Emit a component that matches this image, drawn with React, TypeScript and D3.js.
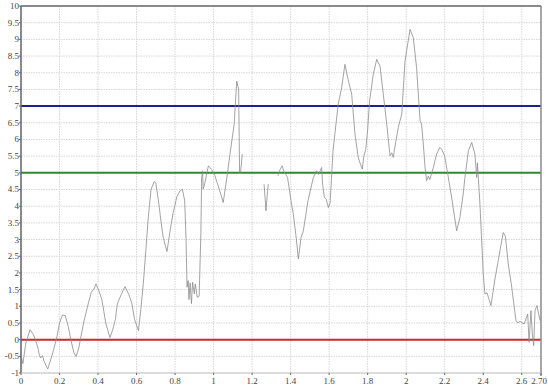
import React from "react";
import * as d3 from "d3";

const xTicks = [0, 0.2, 0.4, 0.6, 0.8, 1, 1.2, 1.4, 1.6, 1.8, 2, 2.2, 2.4, 2.6, 2.7];
const xTickLabels = ["0", "0.2", "0.4", "0.6", "0.8", "1", "1.2", "1.4", "1.6", "1.8", "2", "2.2", "2.4", "2.6", "2.70"];
const yTicks = [-1, -0.5, 0, 0.5, 1, 1.5, 2, 2.5, 3, 3.5, 4, 4.5, 5, 5.5, 6, 6.5, 7, 7.5, 8, 8.5, 9, 9.5, 10];
const yTickLabels = ["-1", "-0.5", "0", "0.5", "1", "1.5", "2", "2.5", "3", "3.5", "4", "4.5", "5", "5.5", "6", "6.5", "7", "7.5", "8", "8.5", "9", "9.5", "10"];

const refLevels = [7, 5, 0];
const refColors = ["#1f1f8f", "#2f8a2f", "#c92a2a"];

const segment1: [number, number][] = [
  [0.003, -0.55], [0.01, -0.72], [0.025, -0.1], [0.047, 0.3], [0.065, 0.15], [0.08, -0.1],
  [0.088, -0.25], [0.095, -0.45], [0.102, -0.55], [0.112, -0.48], [0.118, -0.62], [0.13, -0.78],
  [0.139, -0.88], [0.15, -0.68], [0.168, -0.33], [0.185, 0.05], [0.2, 0.5], [0.215, 0.74],
  [0.23, 0.72], [0.245, 0.4], [0.26, -0.03], [0.275, -0.4], [0.286, -0.51], [0.3, -0.25],
  [0.325, 0.5], [0.35, 1.1], [0.365, 1.42], [0.38, 1.52], [0.389, 1.67], [0.405, 1.45],
  [0.42, 1.2], [0.44, 0.5], [0.45, 0.3], [0.462, 0.06], [0.475, 0.28], [0.49, 0.6],
  [0.5, 1.07], [0.52, 1.35], [0.54, 1.59], [0.56, 1.35], [0.575, 1.1], [0.59, 0.6],
  [0.61, 0.27], [0.622, 0.9], [0.635, 1.67], [0.648, 2.66], [0.66, 3.6], [0.675, 4.5],
  [0.692, 4.74], [0.7, 4.7], [0.715, 4.1], [0.73, 3.4], [0.739, 3.06], [0.75, 2.8],
  [0.758, 2.64], [0.775, 3.3], [0.79, 3.8], [0.81, 4.3], [0.825, 4.45], [0.838, 4.51],
  [0.85, 4.16], [0.857, 3.0], [0.862, 1.57], [0.868, 1.77], [0.872, 1.2], [0.878, 1.7],
  [0.885, 1.08], [0.891, 1.72], [0.9, 1.37], [0.905, 1.67], [0.915, 1.27], [0.925, 1.3],
  [0.934, 3.2], [0.938, 4.86], [0.943, 5.06], [0.946, 4.51], [0.955, 4.7], [0.973, 5.21],
  [0.99, 5.1], [1.007, 4.91], [1.03, 4.5], [1.05, 4.11], [1.07, 4.9], [1.085, 5.56],
  [1.107, 6.46], [1.12, 7.75], [1.13, 7.5], [1.135, 5.01], [1.14, 5.01], [1.149, 5.56],
];

const segment2: [number, number][] = [
  [1.262, 4.66], [1.268, 4.2], [1.272, 3.86], [1.278, 4.3], [1.284, 4.66],
];

const segment3: [number, number][] = [
  [1.334, 4.91], [1.345, 5.1], [1.356, 5.21], [1.365, 5.05], [1.384, 4.86], [1.402, 4.16],
  [1.414, 3.76], [1.43, 3.0], [1.44, 2.42], [1.454, 3.06], [1.466, 3.26], [1.49, 4.16],
  [1.518, 4.86], [1.535, 5.06], [1.545, 4.95], [1.561, 5.16], [1.566, 4.66], [1.575, 4.26],
  [1.585, 4.2], [1.596, 3.96], [1.605, 4.1], [1.62, 5.66], [1.647, 7.06], [1.665, 7.55],
  [1.682, 8.25], [1.7, 7.75], [1.717, 7.36], [1.734, 6.16], [1.751, 5.46], [1.76, 5.3],
  [1.772, 5.11], [1.78, 5.5], [1.79, 5.7], [1.8, 6.3], [1.81, 7.16], [1.829, 7.95],
  [1.847, 8.4], [1.864, 8.2], [1.881, 7.36], [1.899, 6.46], [1.916, 5.51], [1.925, 5.6],
  [1.933, 5.46], [1.945, 5.9], [1.959, 6.36], [1.977, 6.76], [1.994, 8.35], [2.02, 9.3],
  [2.037, 9.05], [2.054, 8.15], [2.072, 6.56], [2.08, 6.46], [2.089, 5.86], [2.098, 5.16],
  [2.106, 4.76], [2.115, 4.9], [2.123, 4.8], [2.141, 5.16], [2.158, 5.56], [2.175, 5.76],
  [2.185, 5.7], [2.2, 5.5], [2.216, 4.96], [2.236, 4.26], [2.262, 3.26], [2.279, 3.66],
  [2.296, 4.36], [2.305, 4.86], [2.323, 5.66], [2.34, 5.91], [2.357, 5.56], [2.366, 4.86],
  [2.37, 5.3], [2.383, 4.06], [2.4, 1.97], [2.409, 1.37], [2.42, 1.4], [2.44, 1.02],
  [2.461, 1.82], [2.478, 2.37], [2.496, 2.96], [2.504, 3.21], [2.515, 3.1], [2.53, 2.27],
  [2.548, 1.57], [2.57, 0.57], [2.58, 0.5], [2.59, 0.55], [2.613, 0.47], [2.631, 0.77],
  [2.638, -0.08], [2.648, 0.87], [2.655, 0.17], [2.662, -0.18], [2.669, 0.87], [2.679, 1.02],
  [2.695, 0.57],
];

const segments = [segment1, segment2, segment3];

export default function App() {
  const W = 548, H = 387;
  const left = 21, right = 541, top = 6, bottom = 373;
  const x = d3.scaleLinear().domain([0, 2.7]).range([left, right]);
  const y = d3.scaleLinear().domain([-1, 10]).range([bottom, top]);
  const line = d3.line<[number, number]>().x(d => x(d[0])).y(d => y(d[1]));
  const font = "'Liberation Serif', 'Times New Roman', serif";

  return (
    <svg width={W} height={H} style={{ position: "absolute", left: 0, top: 0, background: "#fff" }}>
      <rect x={0} y={0} width={W} height={H} fill="#fff" />
      {yTicks.map((t, i) => (
        <line key={"gy" + i} x1={left} x2={right} y1={y(t)} y2={y(t)} stroke="#d6d6d6" strokeWidth={1} strokeDasharray="1.5,1" />
      ))}
      {xTicks.slice(0, -1).map((t, i) => (
        <line key={"gx" + i} x1={x(t)} x2={x(t)} y1={top} y2={bottom} stroke="#d6d6d6" strokeWidth={1} strokeDasharray="1.5,1" />
      ))}
      {refLevels.map((v, i) => (
        <line key={"r" + i} x1={left} x2={right} y1={y(v)} y2={y(v)} stroke={refColors[i]} strokeWidth={2} />
      ))}
      {segments.map((s, i) => (
        <path key={"s" + i} d={line(s) || ""} fill="none" stroke="#8c8c8c" strokeWidth={0.8} />
      ))}
      <line x1={left} x2={right} y1={top} y2={top} stroke="#8a8a8a" strokeWidth={2} />
      <line x1={right} x2={right} y1={top} y2={bottom + 3} stroke="#8a8a8a" strokeWidth={1.5} />
      <line x1={left} x2={left} y1={top} y2={bottom} stroke="#666" strokeWidth={1.5} />
      <line x1={left} x2={right} y1={bottom} y2={bottom} stroke="#c4c4c4" strokeWidth={1} />
      {yTicks.map((t, i) => (
        <g key={"yt" + i}>
          <line x1={left - 2} x2={left} y1={y(t)} y2={y(t)} stroke="#666" />
          <text x={left - 2} y={y(t)} dy="0.33em" textAnchor="end" fontSize={9} fontFamily={font} fill="#444">
            {yTickLabels[i]}
          </text>
        </g>
      ))}
      {xTicks.map((t, i) => (
        <g key={"xt" + i}>
          <line x1={x(t)} x2={x(t)} y1={bottom} y2={bottom + 2} stroke="#666" />
          <text x={i === xTicks.length - 1 ? x(t) - 2 : x(t)} y={bottom + 11} textAnchor="middle" fontSize={9} fontFamily={font} fill="#444">
            {xTickLabels[i]}
          </text>
        </g>
      ))}
    </svg>
  );
}
